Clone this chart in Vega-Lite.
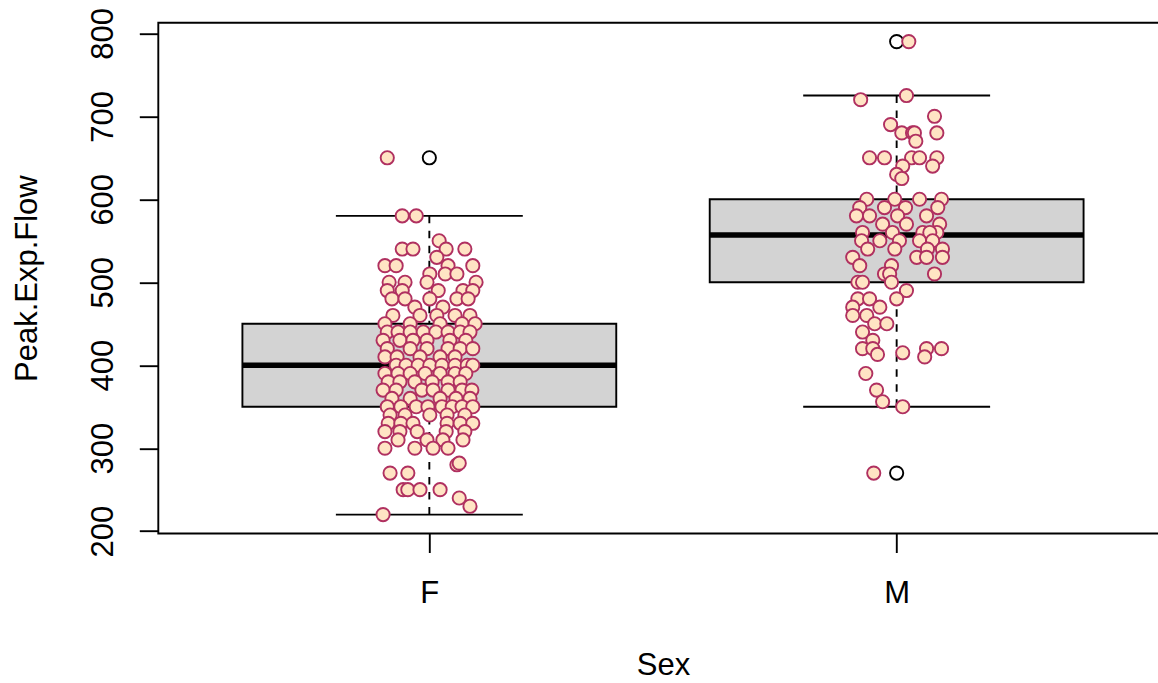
{
  "$schema": "https://vega.github.io/schema/vega-lite/v6.json",
  "autosize": "none",
  "padding": {"left": 158.3, "top": 22.7, "right": 0, "bottom": 149.5},
  "width": 1009.4,
  "height": 510.8,
  "background": "white",
  "config": {
    "view": {"stroke": "black", "strokeWidth": 1.9},
    "font": "Liberation Sans",
    "axisX": {
      "domain": false, "grid": false,
      "ticks": true, "tickSize": 19, "tickWidth": 1.9, "tickColor": "black",
      "labelFontSize": 31, "labelColor": "black", "labelFont": "Liberation Sans",
      "labelFlush": false,
      "titleFontSize": 31, "titleFontWeight": "normal", "titleColor": "black",
      "titleFont": "Liberation Sans"
    },
    "axisY": {
      "domain": false, "grid": false,
      "ticks": true, "tickSize": 19, "tickWidth": 1.9, "tickColor": "black",
      "labelFontSize": 31, "labelColor": "black", "labelFont": "Liberation Sans",
      "labelFlush": false, "labelOverlap": false,
      "titleFontSize": 31, "titleFontWeight": "normal", "titleColor": "black",
      "titleFont": "Liberation Sans"
    }
  },
  "datasets": {
    "stats": [
      {"Sex": "F", "pos": 1, "q1": 350, "med": 400, "q3": 450, "lo": 220, "hi": 580},
      {"Sex": "M", "pos": 2, "q1": 500, "med": 557, "q3": 600, "lo": 350, "hi": 725}
    ],
    "outliers": [
      {"Sex": "F", "pos": 1, "v": 650},
      {"Sex": "M", "pos": 2, "v": 790},
      {"Sex": "M", "pos": 2, "v": 270}
    ],
    "pts": [
      {"Sex": "F", "x": 0.910, "v": 650},
      {"Sex": "F", "x": 0.942, "v": 580}, {"Sex": "F", "x": 0.972, "v": 580},
      {"Sex": "F", "x": 1.021, "v": 550},
      {"Sex": "F", "x": 0.942, "v": 540}, {"Sex": "F", "x": 0.965, "v": 540}, {"Sex": "F", "x": 1.036, "v": 540}, {"Sex": "F", "x": 1.076, "v": 540},
      {"Sex": "F", "x": 1.016, "v": 530},
      {"Sex": "F", "x": 0.905, "v": 520}, {"Sex": "F", "x": 0.929, "v": 520}, {"Sex": "F", "x": 1.040, "v": 520}, {"Sex": "F", "x": 1.093, "v": 520},
      {"Sex": "F", "x": 1.001, "v": 510}, {"Sex": "F", "x": 1.034, "v": 510}, {"Sex": "F", "x": 1.059, "v": 510},
      {"Sex": "F", "x": 0.914, "v": 500}, {"Sex": "F", "x": 0.948, "v": 500}, {"Sex": "F", "x": 0.995, "v": 500}, {"Sex": "F", "x": 1.100, "v": 500},
      {"Sex": "F", "x": 0.910, "v": 490}, {"Sex": "F", "x": 0.942, "v": 490}, {"Sex": "F", "x": 1.019, "v": 490}, {"Sex": "F", "x": 1.072, "v": 490}, {"Sex": "F", "x": 1.093, "v": 490},
      {"Sex": "F", "x": 0.920, "v": 480}, {"Sex": "F", "x": 0.948, "v": 480}, {"Sex": "F", "x": 1.001, "v": 480}, {"Sex": "F", "x": 1.059, "v": 480}, {"Sex": "F", "x": 1.083, "v": 480},
      {"Sex": "F", "x": 1.029, "v": 470}, {"Sex": "F", "x": 0.969, "v": 470},
      {"Sex": "F", "x": 0.922, "v": 460}, {"Sex": "F", "x": 0.980, "v": 460}, {"Sex": "F", "x": 1.055, "v": 460}, {"Sex": "F", "x": 1.087, "v": 460}, {"Sex": "F", "x": 1.016, "v": 460},
      {"Sex": "F", "x": 0.905, "v": 450}, {"Sex": "F", "x": 0.959, "v": 450}, {"Sex": "F", "x": 1.023, "v": 450}, {"Sex": "F", "x": 1.070, "v": 450}, {"Sex": "F", "x": 1.098, "v": 450},
      {"Sex": "F", "x": 0.910, "v": 440}, {"Sex": "F", "x": 0.933, "v": 440}, {"Sex": "F", "x": 0.959, "v": 440}, {"Sex": "F", "x": 0.987, "v": 440}, {"Sex": "F", "x": 1.014, "v": 440}, {"Sex": "F", "x": 1.040, "v": 440}, {"Sex": "F", "x": 1.066, "v": 440}, {"Sex": "F", "x": 1.087, "v": 440},
      {"Sex": "F", "x": 0.901, "v": 430}, {"Sex": "F", "x": 0.937, "v": 430}, {"Sex": "F", "x": 0.965, "v": 430}, {"Sex": "F", "x": 0.995, "v": 430}, {"Sex": "F", "x": 1.044, "v": 430}, {"Sex": "F", "x": 1.078, "v": 430},
      {"Sex": "F", "x": 0.910, "v": 420}, {"Sex": "F", "x": 0.959, "v": 420}, {"Sex": "F", "x": 0.995, "v": 420}, {"Sex": "F", "x": 1.040, "v": 420}, {"Sex": "F", "x": 1.066, "v": 420}, {"Sex": "F", "x": 1.093, "v": 420},
      {"Sex": "F", "x": 0.905, "v": 410}, {"Sex": "F", "x": 0.931, "v": 410}, {"Sex": "F", "x": 0.980, "v": 410}, {"Sex": "F", "x": 1.023, "v": 410}, {"Sex": "F", "x": 1.055, "v": 410},
      {"Sex": "F", "x": 0.929, "v": 400}, {"Sex": "F", "x": 0.950, "v": 400}, {"Sex": "F", "x": 0.976, "v": 400}, {"Sex": "F", "x": 1.001, "v": 400}, {"Sex": "F", "x": 1.027, "v": 400}, {"Sex": "F", "x": 1.055, "v": 400}, {"Sex": "F", "x": 1.081, "v": 400}, {"Sex": "F", "x": 1.093, "v": 400},
      {"Sex": "F", "x": 0.905, "v": 390}, {"Sex": "F", "x": 0.933, "v": 390}, {"Sex": "F", "x": 0.959, "v": 390}, {"Sex": "F", "x": 0.991, "v": 390}, {"Sex": "F", "x": 1.023, "v": 390}, {"Sex": "F", "x": 1.055, "v": 390}, {"Sex": "F", "x": 1.078, "v": 390},
      {"Sex": "F", "x": 0.912, "v": 380}, {"Sex": "F", "x": 0.937, "v": 380}, {"Sex": "F", "x": 0.969, "v": 380}, {"Sex": "F", "x": 1.006, "v": 380}, {"Sex": "F", "x": 1.040, "v": 380}, {"Sex": "F", "x": 1.066, "v": 380},
      {"Sex": "F", "x": 0.901, "v": 370}, {"Sex": "F", "x": 0.929, "v": 370}, {"Sex": "F", "x": 0.984, "v": 370}, {"Sex": "F", "x": 1.008, "v": 370}, {"Sex": "F", "x": 1.040, "v": 370}, {"Sex": "F", "x": 1.070, "v": 370}, {"Sex": "F", "x": 1.091, "v": 370},
      {"Sex": "F", "x": 0.920, "v": 360}, {"Sex": "F", "x": 0.959, "v": 360}, {"Sex": "F", "x": 1.023, "v": 360}, {"Sex": "F", "x": 1.057, "v": 360}, {"Sex": "F", "x": 1.087, "v": 360},
      {"Sex": "F", "x": 0.910, "v": 350}, {"Sex": "F", "x": 0.939, "v": 350}, {"Sex": "F", "x": 0.972, "v": 350}, {"Sex": "F", "x": 0.997, "v": 350}, {"Sex": "F", "x": 1.027, "v": 350}, {"Sex": "F", "x": 1.049, "v": 350}, {"Sex": "F", "x": 1.070, "v": 350}, {"Sex": "F", "x": 1.093, "v": 350},
      {"Sex": "F", "x": 0.916, "v": 340}, {"Sex": "F", "x": 0.948, "v": 340}, {"Sex": "F", "x": 1.001, "v": 340}, {"Sex": "F", "x": 1.038, "v": 340}, {"Sex": "F", "x": 1.076, "v": 340},
      {"Sex": "F", "x": 0.912, "v": 330}, {"Sex": "F", "x": 0.939, "v": 330}, {"Sex": "F", "x": 0.965, "v": 330}, {"Sex": "F", "x": 1.038, "v": 330}, {"Sex": "F", "x": 1.066, "v": 330}, {"Sex": "F", "x": 1.093, "v": 330},
      {"Sex": "F", "x": 0.905, "v": 320}, {"Sex": "F", "x": 0.937, "v": 320}, {"Sex": "F", "x": 0.974, "v": 320}, {"Sex": "F", "x": 1.036, "v": 320}, {"Sex": "F", "x": 1.076, "v": 320},
      {"Sex": "F", "x": 0.933, "v": 310}, {"Sex": "F", "x": 0.995, "v": 310}, {"Sex": "F", "x": 1.029, "v": 310}, {"Sex": "F", "x": 1.072, "v": 310},
      {"Sex": "F", "x": 0.905, "v": 300}, {"Sex": "F", "x": 0.969, "v": 300}, {"Sex": "F", "x": 1.008, "v": 300}, {"Sex": "F", "x": 1.040, "v": 300},
      {"Sex": "F", "x": 1.059, "v": 280}, {"Sex": "F", "x": 1.064, "v": 282},
      {"Sex": "F", "x": 0.916, "v": 270}, {"Sex": "F", "x": 0.954, "v": 270},
      {"Sex": "F", "x": 0.944, "v": 250}, {"Sex": "F", "x": 0.954, "v": 250}, {"Sex": "F", "x": 0.980, "v": 250}, {"Sex": "F", "x": 1.023, "v": 250},
      {"Sex": "F", "x": 1.064, "v": 240},
      {"Sex": "F", "x": 1.087, "v": 230},
      {"Sex": "F", "x": 0.901, "v": 220},
      {"Sex": "M", "x": 2.026, "v": 790},
      {"Sex": "M", "x": 2.021, "v": 725},
      {"Sex": "M", "x": 1.923, "v": 720},
      {"Sex": "M", "x": 2.081, "v": 700},
      {"Sex": "M", "x": 1.987, "v": 690},
      {"Sex": "M", "x": 2.011, "v": 680}, {"Sex": "M", "x": 2.034, "v": 680}, {"Sex": "M", "x": 2.086, "v": 680}, {"Sex": "M", "x": 2.038, "v": 680},
      {"Sex": "M", "x": 2.041, "v": 670},
      {"Sex": "M", "x": 1.942, "v": 650}, {"Sex": "M", "x": 1.974, "v": 650}, {"Sex": "M", "x": 2.032, "v": 650}, {"Sex": "M", "x": 2.049, "v": 650}, {"Sex": "M", "x": 2.086, "v": 650},
      {"Sex": "M", "x": 2.013, "v": 640}, {"Sex": "M", "x": 2.077, "v": 640},
      {"Sex": "M", "x": 2.000, "v": 630},
      {"Sex": "M", "x": 2.011, "v": 625},
      {"Sex": "M", "x": 1.936, "v": 600}, {"Sex": "M", "x": 1.996, "v": 600}, {"Sex": "M", "x": 2.049, "v": 600}, {"Sex": "M", "x": 2.096, "v": 600},
      {"Sex": "M", "x": 1.921, "v": 590}, {"Sex": "M", "x": 1.974, "v": 590}, {"Sex": "M", "x": 2.019, "v": 590}, {"Sex": "M", "x": 2.088, "v": 590},
      {"Sex": "M", "x": 1.914, "v": 580}, {"Sex": "M", "x": 1.942, "v": 580}, {"Sex": "M", "x": 2.002, "v": 580}, {"Sex": "M", "x": 2.064, "v": 580},
      {"Sex": "M", "x": 1.970, "v": 570}, {"Sex": "M", "x": 2.021, "v": 570}, {"Sex": "M", "x": 2.092, "v": 570},
      {"Sex": "M", "x": 1.927, "v": 560}, {"Sex": "M", "x": 1.991, "v": 560}, {"Sex": "M", "x": 2.056, "v": 560}, {"Sex": "M", "x": 2.086, "v": 560}, {"Sex": "M", "x": 2.071, "v": 560},
      {"Sex": "M", "x": 1.925, "v": 550}, {"Sex": "M", "x": 1.964, "v": 550}, {"Sex": "M", "x": 2.006, "v": 550}, {"Sex": "M", "x": 2.049, "v": 550}, {"Sex": "M", "x": 2.077, "v": 550},
      {"Sex": "M", "x": 1.938, "v": 540}, {"Sex": "M", "x": 1.996, "v": 540}, {"Sex": "M", "x": 2.066, "v": 540}, {"Sex": "M", "x": 2.098, "v": 540},
      {"Sex": "M", "x": 1.906, "v": 530}, {"Sex": "M", "x": 2.043, "v": 530}, {"Sex": "M", "x": 2.064, "v": 530}, {"Sex": "M", "x": 2.098, "v": 530},
      {"Sex": "M", "x": 1.921, "v": 520}, {"Sex": "M", "x": 1.989, "v": 520},
      {"Sex": "M", "x": 1.974, "v": 510}, {"Sex": "M", "x": 1.985, "v": 510}, {"Sex": "M", "x": 2.081, "v": 510},
      {"Sex": "M", "x": 1.917, "v": 500}, {"Sex": "M", "x": 1.927, "v": 500}, {"Sex": "M", "x": 1.989, "v": 500},
      {"Sex": "M", "x": 2.021, "v": 490},
      {"Sex": "M", "x": 1.917, "v": 480}, {"Sex": "M", "x": 1.942, "v": 480}, {"Sex": "M", "x": 2.000, "v": 480},
      {"Sex": "M", "x": 1.906, "v": 470}, {"Sex": "M", "x": 1.964, "v": 470},
      {"Sex": "M", "x": 1.906, "v": 460}, {"Sex": "M", "x": 1.936, "v": 460},
      {"Sex": "M", "x": 1.953, "v": 450}, {"Sex": "M", "x": 1.979, "v": 450},
      {"Sex": "M", "x": 1.927, "v": 440},
      {"Sex": "M", "x": 1.949, "v": 430},
      {"Sex": "M", "x": 1.927, "v": 420}, {"Sex": "M", "x": 1.949, "v": 420}, {"Sex": "M", "x": 2.064, "v": 420}, {"Sex": "M", "x": 2.096, "v": 420},
      {"Sex": "M", "x": 2.013, "v": 415},
      {"Sex": "M", "x": 1.959, "v": 413},
      {"Sex": "M", "x": 2.060, "v": 410},
      {"Sex": "M", "x": 1.934, "v": 390},
      {"Sex": "M", "x": 1.957, "v": 370},
      {"Sex": "M", "x": 1.970, "v": 356},
      {"Sex": "M", "x": 2.013, "v": 350},
      {"Sex": "M", "x": 1.951, "v": 270}
    ]
  },
  "layer": [
    {
      "data": {"name": "stats"},
      "mark": {"type": "rule", "color": "black", "strokeWidth": 1.9, "strokeDash": [7.5, 7.5]},
      "encoding": {
        "x": {"field": "pos", "type": "quantitative", "scale": {"domain": [0.42, 2.58], "nice": false, "zero": false},
          "axis": {"values": [1, 2], "labelExpr": "datum.value == 1 ? 'F' : 'M'", "labelBaseline": "alphabetic", "labelPadding": 50.5, "title": "Sex", "titleBaseline": "alphabetic", "titleX": 504.7, "titleY": 141}},
        "y": {"field": "hi", "type": "quantitative", "scale": {"domain": [197.2, 812.8], "nice": false, "zero": false},
          "axis": {"values": [200, 300, 400, 500, 600, 700, 800], "labelAngle": -90, "labelAlign": "center", "labelBaseline": "alphabetic", "labelPadding": 27, "title": "Peak.Exp.Flow", "titleAngle": -90, "titleAlign": "center", "titleBaseline": "alphabetic", "titleX": -122, "titleY": 255.4}},
        "y2": {"field": "q3"}
      }
    },
    {
      "data": {"name": "stats"},
      "mark": {"type": "rule", "color": "black", "strokeWidth": 1.9, "strokeDash": [7.5, 7.5]},
      "encoding": {
        "x": {"field": "pos", "type": "quantitative", "scale": {"domain": [0.42, 2.58], "nice": false, "zero": false},
          "axis": {"values": [1, 2], "labelExpr": "datum.value == 1 ? 'F' : 'M'", "labelBaseline": "alphabetic", "labelPadding": 50.5, "title": "Sex", "titleBaseline": "alphabetic", "titleX": 504.7, "titleY": 141}},
        "y": {"field": "lo", "type": "quantitative", "scale": {"domain": [197.2, 812.8], "nice": false, "zero": false},
          "axis": {"values": [200, 300, 400, 500, 600, 700, 800], "labelAngle": -90, "labelAlign": "center", "labelBaseline": "alphabetic", "labelPadding": 27, "title": "Peak.Exp.Flow", "titleAngle": -90, "titleAlign": "center", "titleBaseline": "alphabetic", "titleX": -122, "titleY": 255.4}},
        "y2": {"field": "q1"}
      }
    },
    {
      "data": {"name": "stats"},
      "transform": [
        {"calculate": "datum.pos - 0.2", "as": "cl"},
        {"calculate": "datum.pos + 0.2", "as": "cr"}
      ],
      "mark": {"type": "rule", "color": "black", "strokeWidth": 1.9},
      "encoding": {
        "x": {"field": "cl", "type": "quantitative", "scale": {"domain": [0.42, 2.58], "nice": false, "zero": false},
          "axis": {"values": [1, 2], "labelExpr": "datum.value == 1 ? 'F' : 'M'", "labelBaseline": "alphabetic", "labelPadding": 50.5, "title": "Sex", "titleBaseline": "alphabetic", "titleX": 504.7, "titleY": 141}},
        "x2": {"field": "cr"},
        "y": {"field": "hi", "type": "quantitative", "scale": {"domain": [197.2, 812.8], "nice": false, "zero": false},
          "axis": {"values": [200, 300, 400, 500, 600, 700, 800], "labelAngle": -90, "labelAlign": "center", "labelBaseline": "alphabetic", "labelPadding": 27, "title": "Peak.Exp.Flow", "titleAngle": -90, "titleAlign": "center", "titleBaseline": "alphabetic", "titleX": -122, "titleY": 255.4}}
      }
    },
    {
      "data": {"name": "stats"},
      "transform": [
        {"calculate": "datum.pos - 0.2", "as": "cl"},
        {"calculate": "datum.pos + 0.2", "as": "cr"}
      ],
      "mark": {"type": "rule", "color": "black", "strokeWidth": 1.9},
      "encoding": {
        "x": {"field": "cl", "type": "quantitative", "scale": {"domain": [0.42, 2.58], "nice": false, "zero": false},
          "axis": {"values": [1, 2], "labelExpr": "datum.value == 1 ? 'F' : 'M'", "labelBaseline": "alphabetic", "labelPadding": 50.5, "title": "Sex", "titleBaseline": "alphabetic", "titleX": 504.7, "titleY": 141}},
        "x2": {"field": "cr"},
        "y": {"field": "lo", "type": "quantitative", "scale": {"domain": [197.2, 812.8], "nice": false, "zero": false},
          "axis": {"values": [200, 300, 400, 500, 600, 700, 800], "labelAngle": -90, "labelAlign": "center", "labelBaseline": "alphabetic", "labelPadding": 27, "title": "Peak.Exp.Flow", "titleAngle": -90, "titleAlign": "center", "titleBaseline": "alphabetic", "titleX": -122, "titleY": 255.4}}
      }
    },
    {
      "data": {"name": "stats"},
      "transform": [
        {"calculate": "datum.pos - 0.4", "as": "bl"},
        {"calculate": "datum.pos + 0.4", "as": "br"}
      ],
      "mark": {"type": "rect", "fill": "#D3D3D3", "stroke": "black", "strokeWidth": 1.9},
      "encoding": {
        "x": {"field": "bl", "type": "quantitative", "scale": {"domain": [0.42, 2.58], "nice": false, "zero": false},
          "axis": {"values": [1, 2], "labelExpr": "datum.value == 1 ? 'F' : 'M'", "labelBaseline": "alphabetic", "labelPadding": 50.5, "title": "Sex", "titleBaseline": "alphabetic", "titleX": 504.7, "titleY": 141}},
        "x2": {"field": "br"},
        "y": {"field": "q1", "type": "quantitative", "scale": {"domain": [197.2, 812.8], "nice": false, "zero": false},
          "axis": {"values": [200, 300, 400, 500, 600, 700, 800], "labelAngle": -90, "labelAlign": "center", "labelBaseline": "alphabetic", "labelPadding": 27, "title": "Peak.Exp.Flow", "titleAngle": -90, "titleAlign": "center", "titleBaseline": "alphabetic", "titleX": -122, "titleY": 255.4}},
        "y2": {"field": "q3"}
      }
    },
    {
      "data": {"name": "stats"},
      "transform": [
        {"calculate": "datum.pos - 0.4", "as": "bl"},
        {"calculate": "datum.pos + 0.4", "as": "br"}
      ],
      "mark": {"type": "rule", "color": "black", "strokeWidth": 5.6},
      "encoding": {
        "x": {"field": "bl", "type": "quantitative", "scale": {"domain": [0.42, 2.58], "nice": false, "zero": false},
          "axis": {"values": [1, 2], "labelExpr": "datum.value == 1 ? 'F' : 'M'", "labelBaseline": "alphabetic", "labelPadding": 50.5, "title": "Sex", "titleBaseline": "alphabetic", "titleX": 504.7, "titleY": 141}},
        "x2": {"field": "br"},
        "y": {"field": "med", "type": "quantitative", "scale": {"domain": [197.2, 812.8], "nice": false, "zero": false},
          "axis": {"values": [200, 300, 400, 500, 600, 700, 800], "labelAngle": -90, "labelAlign": "center", "labelBaseline": "alphabetic", "labelPadding": 27, "title": "Peak.Exp.Flow", "titleAngle": -90, "titleAlign": "center", "titleBaseline": "alphabetic", "titleX": -122, "titleY": 255.4}}
      }
    },
    {
      "data": {"name": "outliers"},
      "mark": {"type": "point", "shape": "circle", "filled": false, "stroke": "black", "strokeWidth": 1.9, "size": 175, "opacity": 1},
      "encoding": {
        "x": {"field": "pos", "type": "quantitative", "scale": {"domain": [0.42, 2.58], "nice": false, "zero": false},
          "axis": {"values": [1, 2], "labelExpr": "datum.value == 1 ? 'F' : 'M'", "labelBaseline": "alphabetic", "labelPadding": 50.5, "title": "Sex", "titleBaseline": "alphabetic", "titleX": 504.7, "titleY": 141}},
        "y": {"field": "v", "type": "quantitative", "scale": {"domain": [197.2, 812.8], "nice": false, "zero": false},
          "axis": {"values": [200, 300, 400, 500, 600, 700, 800], "labelAngle": -90, "labelAlign": "center", "labelBaseline": "alphabetic", "labelPadding": 27, "title": "Peak.Exp.Flow", "titleAngle": -90, "titleAlign": "center", "titleBaseline": "alphabetic", "titleX": -122, "titleY": 255.4}}
      }
    },
    {
      "data": {"name": "pts"},
      "mark": {"type": "point", "shape": "circle", "filled": true, "fill": "#FFE4C4", "stroke": "#B03060", "strokeWidth": 1.9, "size": 175, "opacity": 1, "fillOpacity": 1, "strokeOpacity": 1},
      "encoding": {
        "x": {"field": "x", "type": "quantitative", "scale": {"domain": [0.42, 2.58], "nice": false, "zero": false},
          "axis": {"values": [1, 2], "labelExpr": "datum.value == 1 ? 'F' : 'M'", "labelBaseline": "alphabetic", "labelPadding": 50.5, "title": "Sex", "titleBaseline": "alphabetic", "titleX": 504.7, "titleY": 141}},
        "y": {"field": "v", "type": "quantitative", "scale": {"domain": [197.2, 812.8], "nice": false, "zero": false},
          "axis": {"values": [200, 300, 400, 500, 600, 700, 800], "labelAngle": -90, "labelAlign": "center", "labelBaseline": "alphabetic", "labelPadding": 27, "title": "Peak.Exp.Flow", "titleAngle": -90, "titleAlign": "center", "titleBaseline": "alphabetic", "titleX": -122, "titleY": 255.4}}
      }
    }
  ]
}
